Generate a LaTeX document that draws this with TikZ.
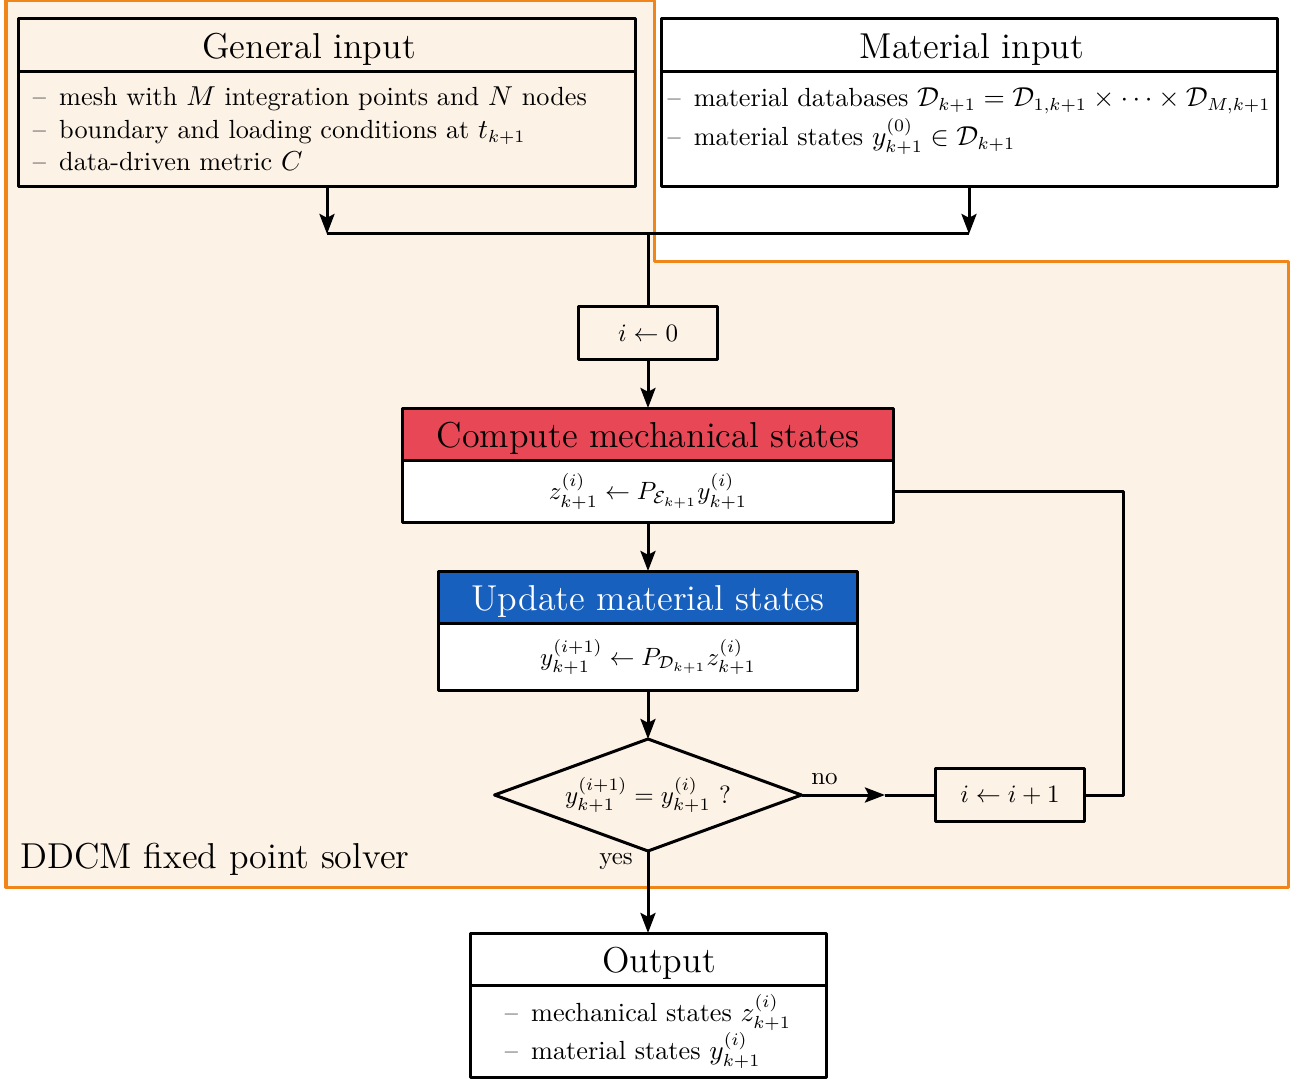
\documentclass[tikz,border=0pt]{standalone}
\usepackage{amsmath,amssymb}
\usetikzlibrary{arrows.meta,shapes.geometric,positioning}
\definecolor{ddred}{RGB}{232,71,85}
\definecolor{ddblue}{RGB}{24,96,190}
\definecolor{ddcream}{RGB}{253,242,230}
\definecolor{ddorange}{RGB}{240,134,26}
\newcommand{\ddit}{\textendash\enspace}
\begin{document}
\begin{tikzpicture}[x=0.4pt,y=-0.4pt,line join=round,
    frame/.style={draw,line width=1.2pt,inner sep=0pt,outer sep=0pt},
    head/.style={frame,font=\Large,minimum height=21pt,text height=13pt,text depth=2.4pt,anchor=north},
    body/.style={frame,align=left,anchor=north},
    list/.style={body,font=\fontsize{10.5pt}{13pt}\selectfont},
    flow/.style={line width=1.2pt,-{Stealth[length=8pt,width=6pt,inset=1.5pt]}},
    link/.style={line width=1.2pt}]
  \useasboundingbox (0,0) rectangle (1301,1079);
  % solver region
  \draw[line width=1.2pt,draw=ddorange,fill=ddcream] (6,1)--(654,1)--(654,262)--(1288,262)--(1288,887)--(6,887)--cycle;
  \node[font=\Large,anchor=base west,inner sep=0pt] (solver) at (20,868) {DDCM fixed point solver};
  % inputs
  \node[head,minimum width=246.4pt] (ghead) at (327,19) {\hspace{-14.4pt}General input};
  \node[list,minimum width=246.4pt,minimum height=46pt,text width=235.2pt,inner xsep=5.6pt] (gbody) at (ghead.south)
    {\ddit mesh with $M$ integration points and $N$ nodes\\
     \ddit boundary and loading conditions at $t_{k+1}$\\
     \ddit data-driven metric $C$};
  \node[head,fill=white,minimum width=246.4pt] (mhead) at (969,19) {\hspace{2.4pt}Material input};
  \node[list,fill=white,minimum width=246.4pt,minimum height=46pt] (mbody) at (mhead.south)
    {\ddit material databases $\mathcal{D}_{k+1}=\mathcal{D}_{1,k+1}\times\cdots\times\mathcal{D}_{M,k+1}$\\[1pt]
     \ddit material states $y^{(0)}_{k+1}\in\mathcal{D}_{k+1}$\\[-3pt] \mbox{}};
  % iteration
  \node[frame,minimum width=55.6pt,minimum height=20.8pt] (init) at (648,333) {$i\leftarrow 0$};
  \node[head,fill=ddred,minimum width=196.4pt] (chead) at (648,408) {Compute mechanical states};
  \node[body,fill=white,minimum width=196.4pt,minimum height=24.8pt] (cbody) at (chead.south)
    {$z^{(i)}_{k+1}\leftarrow P_{\mathcal{E}_{k+1}}y^{(i)}_{k+1}$};
  \node[head,fill=ddblue,text=white,minimum width=167.6pt] (uhead) at (648,571) {Update material states};
  \node[body,fill=white,minimum width=167.6pt,minimum height=26.8pt] (ubody) at (uhead.south)
    {$y^{(i+1)}_{k+1}\leftarrow P_{\mathcal{D}_{k+1}}z^{(i)}_{k+1}$};
  \node[frame,diamond,aspect=2.74,minimum width=122.8pt,minimum height=44.8pt] (cond) at (648,795)
    {$y^{(i+1)}_{k+1}=y^{(i)}_{k+1}$ ?};
  \node[frame,minimum width=59.6pt,minimum height=21.2pt] (inc) at (1010,795) {$i\leftarrow i+1$};
  % output
  \node[head,fill=white,minimum width=142.4pt] (ohead) at (648,933) {\hspace{8.8pt}Output};
  \node[list,fill=white,minimum width=142.4pt,minimum height=36.8pt] (obody) at (ohead.south)
    {\ddit mechanical states $z^{(i)}_{k+1}$\\
     \ddit material states $y^{(i)}_{k+1}$};
  % connectors
  \coordinate (join) at (648,234);
  \coordinate (notip) at (885,795);
  \coordinate (loop) at (1123,490);
  \draw[flow] (gbody.south) -- (gbody.south |- join);
  \draw[flow] (mbody.south) -- (mbody.south |- join);
  \draw[link] (gbody.south |- join) -- (mbody.south |- join);
  \draw[link] (join) -- (init.north);
  \draw[flow] (init.south) -- (chead.north);
  \draw[flow] (cbody.south) -- (uhead.north);
  \draw[flow] (ubody.south) -- (cond.north);
  \draw[flow] (cond.east) -- node[pos=0,anchor=south west]{no} (notip);
  \draw[link] (notip) -- (inc.west);
  \draw[link] (inc.east) -| (cbody.east -| loop) -- (cbody.east);
  \draw[flow] (cond.south) -- node[pos=0,anchor=north east,inner xsep=5.5pt,inner ysep=0.5pt]{yes} (ohead.north);
\end{tikzpicture}
\end{document}
